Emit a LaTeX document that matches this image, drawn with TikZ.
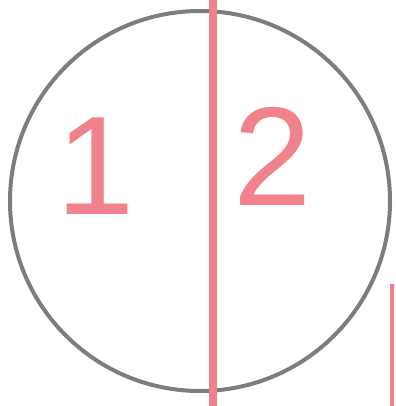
\documentclass[tikz,border=0pt]{standalone}
\usepackage{fontspec}
\setsansfont{Liberation Sans}
\usepackage{tikz}
\usetikzlibrary{positioning,calc}
\definecolor{pencilred}{RGB}{240,130,140}
\definecolor{pencilgray}{RGB}{125,125,125}
\tikzset{
  ringline/.style={draw=pencilgray, line width=1mm},
  cutline/.style={draw=pencilred, line width=2mm},
  strayline/.style={draw=pencilred, line width=1.2mm},
  partlabel/.style={text=pencilred, font=\fontsize{100}{100}\sffamily, inner sep=0pt},
}
\begin{document}
\begin{tikzpicture}[x=0.25mm, y=-0.25mm]
    \useasboundingbox (0,0) rectangle (396,406);
    \node[ringline, circle, minimum size=95mm, inner sep=0pt] (disc) at (200,201) {};
    % the cut through the disc
    \coordinate (cuttop) at (213,0);
    \coordinate (cutbot) at (213,406);
    \node[partlabel] (one) at (96,166) {1};
    \node[partlabel] (two) at (273,156) {2};
    % stray mark at the right edge
    \coordinate (straytop) at (392,284);
    \coordinate (straybot) at (392,406);
    \draw[cutline] (cuttop) -- (cutbot);
    \draw[strayline] (straytop) -- (straybot);
  \end{tikzpicture}
\end{document}
